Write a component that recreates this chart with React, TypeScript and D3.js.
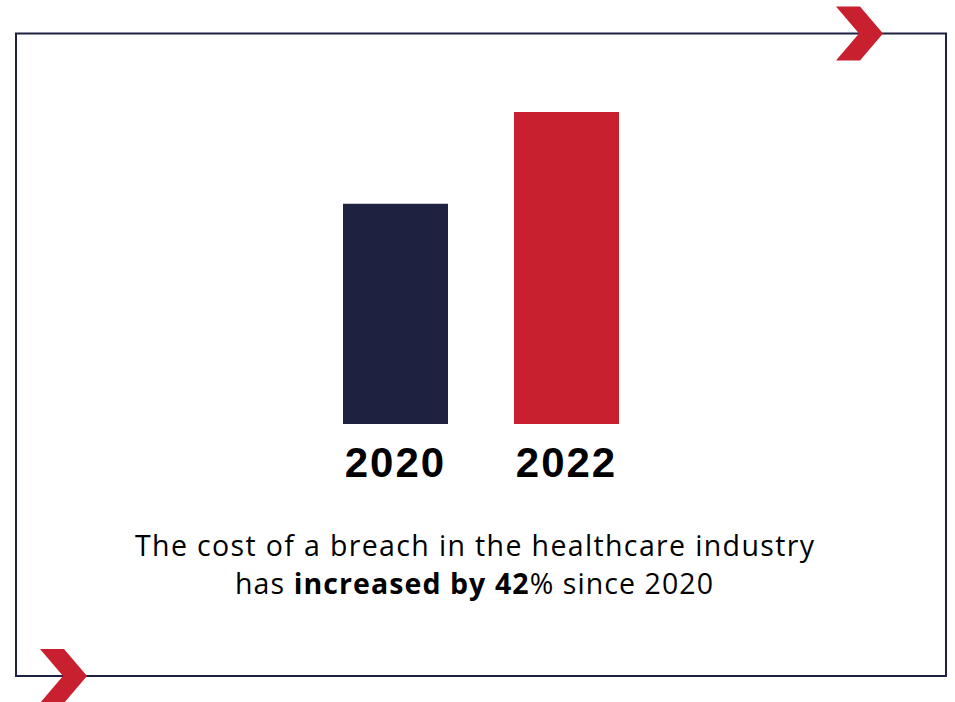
import React from "react";
import * as d3 from "d3";

const years = ["2020", "2022"];
const costs = [7.13, 10.1];
const barColors = ["#1e2140", "#c8202f"];
const captionLine1 = "The cost of a breach in the healthcare industry";
const captionPre = "has ";
const captionBold = "increased by 42";
const captionPost = "% since 2020";

const W = 955;
const H = 702;
const NAVY = "#1e2140";
const RED = "#c8202f";

export default function App() {
  const x = d3.scaleBand<string>().domain(years).range([343, 619]).paddingInner(0.386).paddingOuter(0);
  const y = d3.scaleLinear().domain([0, 10.1]).range([424, 112]);

  const chevron = (left: number, cy: number) => {
    const h = 27;
    const arm = 24;
    const depth = 23;
    const p = d3.path();
    p.moveTo(left, cy - h);
    p.lineTo(left + arm, cy - h);
    p.lineTo(left + arm + depth, cy);
    p.lineTo(left + arm, cy + h);
    p.lineTo(left, cy + h);
    p.lineTo(left + depth, cy);
    p.closePath();
    return p.toString();
  };

  const capFont = "'Open Sans', sans-serif";

  return (
    <svg width={W} height={H} style={{ position: "absolute", left: 0, top: 0, background: "#fff" }}>
      <rect x={16} y={33.5} width={930} height={642.5} fill="none" stroke={NAVY} strokeWidth={2} />
      <path d={chevron(836, 33.5)} fill={RED} />
      <path d={chevron(40, 676)} fill={RED} />
      {years.map((yr, i) => (
        <rect key={yr} x={x(yr)} y={y(costs[i])} width={x.bandwidth()} height={y(0) - y(costs[i])} fill={barColors[i]} />
      ))}
      {years.map((yr) => (
        <text
          key={"l" + yr}
          x={(x(yr) as number) + x.bandwidth() / 2}
          y={477}
          textAnchor="middle"
          fontFamily="Liberation Sans, Arial, sans-serif"
          fontWeight="bold"
          fontSize={42}
          letterSpacing={2}
          fill="#000"
        >
          {yr}
        </text>
      ))}
      <text
        x={135}
        y={556}
        fontFamily={capFont}
        fontSize={28.5}
        fill="#000"
        textLength={679}
        lengthAdjust="spacing"
      >
        {captionLine1}
      </text>
      <text
        x={235}
        y={594}
        fontFamily={capFont}
        fontSize={28.5}
        fill="#000"
        textLength={478}
        lengthAdjust="spacing"
      >
        <tspan>{captionPre}</tspan>
        <tspan fontWeight="bold">{captionBold}</tspan>
        <tspan>{captionPost}</tspan>
      </text>
    </svg>
  );
}
